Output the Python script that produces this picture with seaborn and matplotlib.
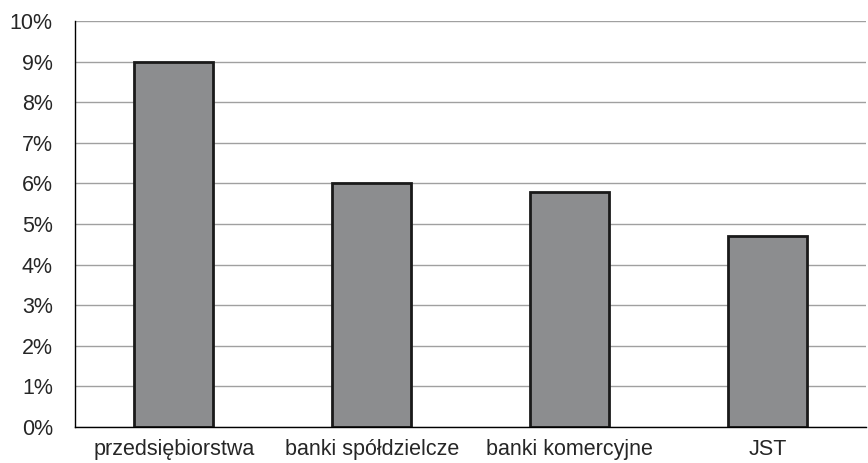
import numpy as np
import pandas as pd
import matplotlib
matplotlib.use("Agg")
import matplotlib.pyplot as plt
import seaborn as sns

kategorie = ["przedsiębiorstwa", "banki spółdzielcze", "banki komercyjne", "JST"]
wartosci = [9.0, 6.0, 5.8, 4.7]

df = pd.DataFrame({"kategoria": kategorie, "wartosc": wartosci})

sns.set_style("white")
plt.rcParams["font.family"] = ["Liberation Sans", "DejaVu Sans"]

fig = plt.figure(figsize=(8.68, 4.63), dpi=100)
ax = fig.add_axes([0.0864, 0.0778, 0.9116, 0.8768])

sns.barplot(data=df, x="kategoria", y="wartosc", color="#8c8d8f",
            edgecolor="#1a1a1a", linewidth=2, width=0.4, saturation=1, ax=ax)

ax.set_ylim(0, 10)
ax.set_xlim(-0.5, 3.5)
ax.set_yticks(np.arange(0, 11, 1))
ax.set_yticklabels([f"{i}%" for i in range(11)], fontsize=15.5)
ax.yaxis.grid(True, color="#a0a0a0", linewidth=1)
ax.set_axisbelow(True)

ax.set_xticks(range(len(kategorie)))
ax.set_xticklabels(kategorie, fontsize=15.5)
ax.set_xticks(np.arange(-0.5, 4, 1), minor=True)
ax.tick_params(axis="x", which="major", length=0, pad=9)
ax.tick_params(axis="x", which="minor", direction="out", length=6, width=1, color="black")
ax.tick_params(axis="y", direction="out", length=6, width=1, color="black", pad=10)

ax.set_xlabel("")
ax.set_ylabel("")
for s in ["top", "right"]:
    ax.spines[s].set_visible(False)
ax.spines["left"].set_color("black")
ax.spines["bottom"].set_color("black")
ax.spines["left"].set_linewidth(1)
ax.spines["bottom"].set_linewidth(1)

fig.savefig("out.png", dpi=100)
